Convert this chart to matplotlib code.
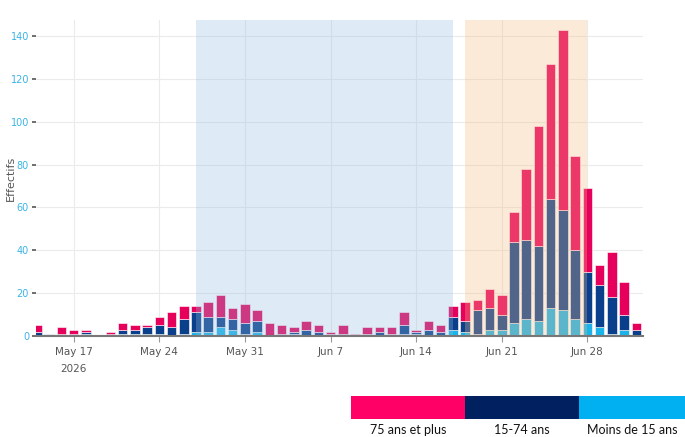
import matplotlib
matplotlib.use("Agg")
import matplotlib.pyplot as plt
import matplotlib.dates as mdates
import pandas as pd
import numpy as np

# ---- data ----
start_date = "2026-05-14"
end_date = "2026-07-02"
moins15 = [0, 0, 0, 0, 1, 0, 0, 1, 1, 1, 1, 0, 1, 2, 2, 4, 3, 1, 2, 0,
           0, 1, 0, 0, 0, 0, 0, 0, 0, 0, 1, 1, 0, 0, 3, 2, 1, 3, 3, 6,
           8, 7, 13, 12, 8, 6, 4, 1, 3, 0]
age15_74 = [2, 1, 1, 1, 1, 0, 1, 2, 2, 3, 4, 4, 7, 9, 7, 5, 5, 5, 5, 0,
            1, 1, 3, 2, 1, 1, 0, 1, 2, 1, 4, 1, 3, 2, 6, 5, 11, 10, 7, 38,
            37, 35, 51, 47, 32, 24, 20, 17, 7, 3]
age75 = [3, 0, 3, 2, 1, 0, 1, 3, 2, 1, 4, 7, 6, 3, 7, 10, 5, 9, 5, 6,
         4, 2, 4, 3, 1, 4, 1, 3, 2, 3, 6, 1, 4, 3, 5, 9, 5, 9, 9, 14,
         33, 56, 63, 84, 44, 39, 9, 21, 15, 3]
series_names = ["75 ans et plus", "15-74 ans", "Moins de 15 ans"]
bar_colors = ["#e6005c", "#0a3f8c", "#1ab4ea"]
legend_colors = ["#ff0066", "#002060", "#00b0f0"]
blue_span = ("2026-05-27", "2026-06-17")
orange_span = ("2026-06-18", "2026-06-28")
xtick_dates = ["2026-05-17", "2026-05-24", "2026-05-31", "2026-06-07",
               "2026-06-14", "2026-06-21", "2026-06-28"]
xtick_labels = ["May 17\n2026", "May 24", "May 31", "Jun 7", "Jun 14",
                "Jun 21", "Jun 28"]
yticks = [0, 20, 40, 60, 80, 100, 120, 140]

dates = pd.date_range(start_date, end_date, freq="D")
x = mdates.date2num(dates.to_pydatetime())
a = np.array(moins15)
b = np.array(age15_74)
c = np.array(age75)

narrow = ["Liberation Sans Narrow", "DejaVu Sans"]

fig = plt.figure(figsize=(6.85, 4.37), dpi=100)
ax = fig.add_axes([36 / 685, 101 / 437, 607 / 685, 316 / 437])

w = 0.78
ax.bar(x, a, width=w, color=bar_colors[2], edgecolor="white", linewidth=0.4, zorder=2)
ax.bar(x, b, width=w, bottom=a, color=bar_colors[1], edgecolor="white", linewidth=0.4, zorder=2)
ax.bar(x, c, width=w, bottom=a + b, color=bar_colors[0], edgecolor="white", linewidth=0.4, zorder=2)

bs = [mdates.date2num(pd.Timestamp(d).to_pydatetime()) for d in blue_span]
os_ = [mdates.date2num(pd.Timestamp(d).to_pydatetime()) for d in orange_span]
ax.axvspan(bs[0], bs[1], color=(148 / 255, 188 / 255, 222 / 255), alpha=0.3, lw=0, zorder=3)
ax.axvspan(os_[0], os_[1], color=(248 / 255, 187 / 255, 132 / 255), alpha=0.3, lw=0, zorder=3)

ax.set_xlim(x[0] - 0.08, x[-1] + 0.55)
ax.set_ylim(0, 147.5)

xt = [mdates.date2num(pd.Timestamp(d).to_pydatetime()) for d in xtick_dates]
ax.set_xticks(xt)
ax.set_xticklabels(xtick_labels, fontsize=7.5, color="#555555", family=narrow,
                   linespacing=1.9)
ax.set_yticks(yticks)
ax.set_yticklabels([str(v) for v in yticks], fontsize=7, color="#3ab4e6", family=narrow)
ax.tick_params(axis="x", length=4, color="#999999", pad=4)
ax.tick_params(axis="y", length=3, width=1.2, color="#555555", pad=2)

ax.grid(True, axis="both", color="#ebebeb", linewidth=0.8, zorder=0)
ax.set_axisbelow(True)
for s in ["top", "right", "left"]:
    ax.spines[s].set_visible(False)
ax.spines["bottom"].set_color("#777777")
ax.spines["bottom"].set_linewidth(1.5)
ax.spines["bottom"].set_zorder(4)

ax.set_ylabel("Effectifs", fontsize=8, color="#555555")
ax.yaxis.set_label_coords(-20 / 607, 0.5)

# ---- legend strip (pixel coordinates) ----
lax = fig.add_axes([0, 0, 1, 41 / 437])
lax.set_xlim(0, 685)
lax.set_ylim(0, 41)
lax.axis("off")
seg_edges = [351, 465, 579, 685]
for i, (name, col) in enumerate(zip(series_names, legend_colors)):
    x0, x1 = seg_edges[i], seg_edges[i + 1]
    lax.add_patch(plt.Rectangle((x0, 18), x1 - x0, 23, color=col, lw=0))
    lax.text((x0 + x1) / 2, 7, name, ha="center", va="center", fontsize=9,
             family=["Lato", "DejaVu Sans"], color="#111111")

fig.savefig("out.png", dpi=100)
